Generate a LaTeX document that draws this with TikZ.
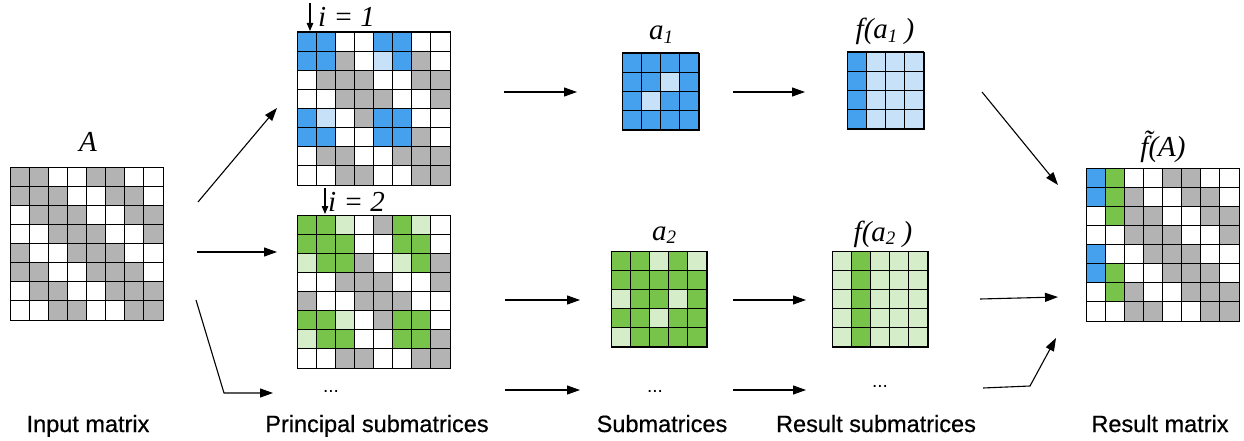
\documentclass[tikz,border=0pt]{standalone}
\usepackage{fontspec}
\setmainfont{Liberation Serif}
\setsansfont{Liberation Sans}
\newfontfamily\medsans[FakeBold=0.6]{Liberation Sans}
\usetikzlibrary{arrows.meta}
\definecolor{cB}{HTML}{45A1EE}
\definecolor{cL}{HTML}{C6E1F8}
\definecolor{cN}{HTML}{78C44B}
\definecolor{cM}{HTML}{D6EDC9}
\definecolor{cG}{HTML}{B3B3B3}
\definecolor{cW}{HTML}{FFFFFF}
\newcommand\cellsz{19.125}
\newcommand\drawmat[5]{%
  \foreach \cc [count=\kk from 0] in {#5} {%
    \pgfmathtruncatemacro\mr{floor(\kk/#4)}%
    \pgfmathtruncatemacro\mc{\kk-\mr*#4}%
    \path[fill=c\cc, draw=black, line width=1pt] ({#2+\mc*\cellsz},{#3+\mr*\cellsz}) rectangle ++(\cellsz,\cellsz);
  }%
  \node[draw=black, line width=1.2pt, minimum size={#4*\cellsz}, inner sep=0pt, anchor=north west] (#1) at (#2,#3) {};%
}
\newcommand\mysub[1]{\raisebox{-0.12em}{\fontsize{19}{19}\selectfont\itshape #1}}
\begin{document}
\begin{tikzpicture}[x=1pt,y=-1pt,
  conn/.style={line width=1.1pt, -{Triangle[length=13pt,width=9pt]}},
  smallarr/.style={line width=1.1pt, -{Triangle[length=8pt,width=6.5pt]}},
  mlab/.style={font=\fontsize{29}{29}\selectfont\itshape, inner sep=0pt, anchor=base},
  blab/.style={font=\medsans\fontsize{23.5}{23.5}\selectfont, inner sep=0pt, anchor=base},
  dlab/.style={font=\sffamily\fontsize{19}{19}\selectfont, inner sep=0pt, anchor=base}]
\useasboundingbox (0,0) rectangle (1244,441);

% matrices
\drawmat{A}{10}{167}{8}{G,G,W,W,G,G,W,W,G,G,G,W,W,G,G,W,W,G,G,G,W,W,G,G,W,W,G,G,G,W,W,G,G,W,W,G,G,G,W,W,G,G,W,W,G,G,G,W,W,G,G,W,W,G,G,G,W,W,G,G,W,W,G,G}
\drawmat{P1}{297}{32}{8}{B,B,W,W,B,B,W,W,B,B,G,W,L,B,G,W,W,G,G,G,W,W,G,G,W,W,G,G,G,W,W,G,B,L,W,G,B,B,W,W,B,B,W,W,B,B,G,W,W,G,G,W,W,G,G,G,W,W,G,G,W,W,G,G}
\drawmat{P2}{297}{215}{8}{N,N,M,W,G,N,M,W,N,N,N,W,W,N,N,W,M,N,N,G,W,M,N,G,W,W,G,G,G,W,W,G,G,W,W,G,G,G,W,W,N,N,M,W,G,N,N,W,M,N,N,W,W,N,N,G,W,W,G,G,W,W,G,G}
\drawmat{a1}{622}{53}{4}{B,B,B,B,B,B,L,B,B,L,B,B,B,B,B,B}
\drawmat{fa1}{847}{52}{4}{B,L,L,L,B,L,L,L,B,L,L,L,B,L,L,L}
\drawmat{a2}{611}{251}{5}{N,N,M,N,M,N,N,N,N,N,M,N,N,M,N,N,N,M,N,N,M,N,N,N,N}
\drawmat{fa2}{832}{251}{5}{M,N,M,M,M,M,N,M,M,M,M,N,M,M,M,M,N,M,M,M,M,N,M,M,M}
\drawmat{R}{1086}{168}{8}{B,N,W,W,G,G,W,W,B,N,G,W,W,G,G,W,W,N,G,G,W,W,G,G,W,W,G,G,G,W,W,G,B,W,W,G,G,G,W,W,B,N,W,W,G,G,G,W,W,N,G,W,W,G,G,G,W,W,G,G,W,W,G,G}

% labels above
\node[mlab] (lA) at (88,151) {A};
\node[mlab, anchor=base west] (li1) at (318,27) {i = 1};
\node[mlab, anchor=base west] (li2) at (328,211) {i = 2};
\node[mlab] (la1) at (661,40) {a\mysub{1}};
\node[mlab] (lfa1) at (885,39) {f(a\mysub{1} )};
\node[mlab] (la2) at (664,240) {a\mysub{2}};
\node[mlab] (lfa2) at (883,241) {f(a\mysub{2} )};
\node[mlab] (lR) at (1163,157) {\~{f}(A)};

% index arrows
\coordinate (t1) at (310,3);  \coordinate (h1) at (310,31);
\coordinate (t2) at (325,188); \coordinate (h2) at (325,214);
\draw[smallarr] (t1) -- (h1);
\draw[smallarr] (t2) -- (h2);

% dots
\node[dlab] (d1) at (331,392) {...};
\node[dlab] (d2) at (655,392) {...};
\node[dlab] (d3) at (880,387) {...};

% connectors
\coordinate (s1) at (198,202); \coordinate (e1) at (277,108);
\coordinate (s2) at (197,252); \coordinate (e2) at (277,252);
\coordinate (s3) at (196,300); \coordinate (k3) at (224,393); \coordinate (e3) at (273,393);
\draw[conn] (s1) -- (e1);
\draw[conn] (s2) -- (e2);
\draw[conn] (s3) -- (k3) -- (e3);

\coordinate (m1s) at (504,92);  \coordinate (m1e) at (577,92);
\coordinate (m2s) at (733,92);  \coordinate (m2e) at (805,92);
\coordinate (m3s) at (505,300); \coordinate (m3e) at (580,300);
\coordinate (m4s) at (733,300); \coordinate (m4e) at (806,300);
\coordinate (m5s) at (505,390); \coordinate (m5e) at (580,390);
\coordinate (m6s) at (733,390); \coordinate (m6e) at (806,390);
\draw[conn] (m1s) -- (m1e);
\draw[conn] (m2s) -- (m2e);
\draw[conn] (m3s) -- (m3e);
\draw[conn] (m4s) -- (m4e);
\draw[conn] (m5s) -- (m5e);
\draw[conn] (m6s) -- (m6e);

\coordinate (r1s) at (982,92);  \coordinate (r1e) at (1058,185);
\coordinate (r2s) at (980,299); \coordinate (r2e) at (1058,297);
\coordinate (r3s) at (983,388); \coordinate (r3k) at (1030,386); \coordinate (r3e) at (1056,338);
\draw[conn] (r1s) -- (r1e);
\draw[conn] (r2s) -- (r2e);
\draw[conn] (r3s) -- (r3k) -- (r3e);

% bottom labels
\node[blab] (b1) at (88,432) {Input matrix};
\node[blab] (b2) at (377,432) {Principal submatrices};
\node[blab] (b3) at (662,432) {Submatrices};
\node[blab] (b4) at (876,432) {Result submatrices};
\node[blab] (b5) at (1160,432) {Result matrix};
\end{tikzpicture}
\end{document}
